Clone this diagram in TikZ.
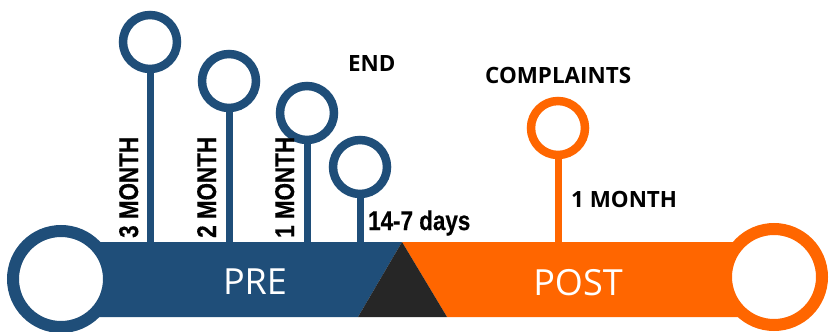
\documentclass[tikz,border=0pt]{standalone}
\usepackage{fontspec}
\setmainfont{Open Sans}
\newfontfamily\narrowbold[FakeStretch=0.83,FakeBold=0.4]{Liberation Sans}
\newfontfamily\opensans{Open Sans}
\definecolor{pblue}{HTML}{1F4E79}
\definecolor{porange}{HTML}{FF6600}
\definecolor{pdark}{HTML}{262626}
\begin{document}
\begin{tikzpicture}[x=1pt,y=-1pt,
  pin/.style={circle,draw=#1,fill=white,line width=8.5pt,minimum size=54pt,inner sep=0pt},
  bigring/.style={circle,draw=#1,fill=white,line width=12pt,minimum size=96pt,inner sep=0pt},
  stem/.style={draw=#1,line width=7pt},
  narrowlbl/.style={font=\narrowbold\bfseries\fontsize{27}{28}\selectfont,inner sep=0pt,text=black},
  boldlbl/.style={font=\opensans\bfseries\fontsize{22.4}{24}\selectfont,inner sep=0pt,text=black},
  barlbl/.style={font=\opensans\fontsize{36}{38}\selectfont,inner sep=0pt,text=white}]
\useasboundingbox (0,0) rectangle (833,332);
\coordinate (bt) at (0,242);
% bar
\fill[pblue] (61,242) -- (402,242) -- (358,317) -- (61,317) -- cycle;
\fill[porange] (402,242) -- (774,242) -- (774,317) -- (447,317) -- cycle;
\fill[pdark] (402,242) -- (447,317) -- (358,317) -- cycle;
% big rings
\node[bigring=pblue] (lring) at (61,279) {};
\node[bigring=porange] (rring) at (774,277) {};
% pins
\node[pin=pblue] (p1) at (150,42) {};
\node[pin=pblue] (p2) at (229,81) {};
\node[pin=pblue] (p3) at (307,113) {};
\node[pin=pblue] (p4) at (360,167) {};
\node[pin=porange] (p5) at (558,128) {};
\draw[stem=pblue] (p1.south) -- (p1.south |- bt);
\draw[stem=pblue] (p2.south) -- (p2.south |- bt);
\draw[stem=pblue] (p3.south) -- (p3.south |- bt);
\draw[stem=pblue] (p4.south) -- (p4.south |- bt);
\draw[stem=porange] (p5.south) -- (p5.south |- bt);
% labels
\node[narrowlbl,rotate=90,anchor=base west] (t3) at (138,238) {3 MONTH};
\node[narrowlbl,rotate=90,anchor=base west] (t2) at (216,238) {2 MONTH};
\node[narrowlbl,rotate=90,anchor=base west] (t1) at (294,238) {1 MONTH};
\node[narrowlbl,anchor=base west] (t14) at (368,230) {14-7 days};
\node[boldlbl,anchor=base west] (tend) at (348,71) {END};
\node[boldlbl,anchor=base west] (tcomp) at (485,83) {COMPLAINTS};
\node[boldlbl,anchor=base west] (tpm) at (571,207) {1 MONTH};
\node[barlbl,anchor=base] (tpre) at (255,294) {PRE};
\node[barlbl,anchor=base] (tpost) at (578,295) {POST};
\end{tikzpicture}
\end{document}
